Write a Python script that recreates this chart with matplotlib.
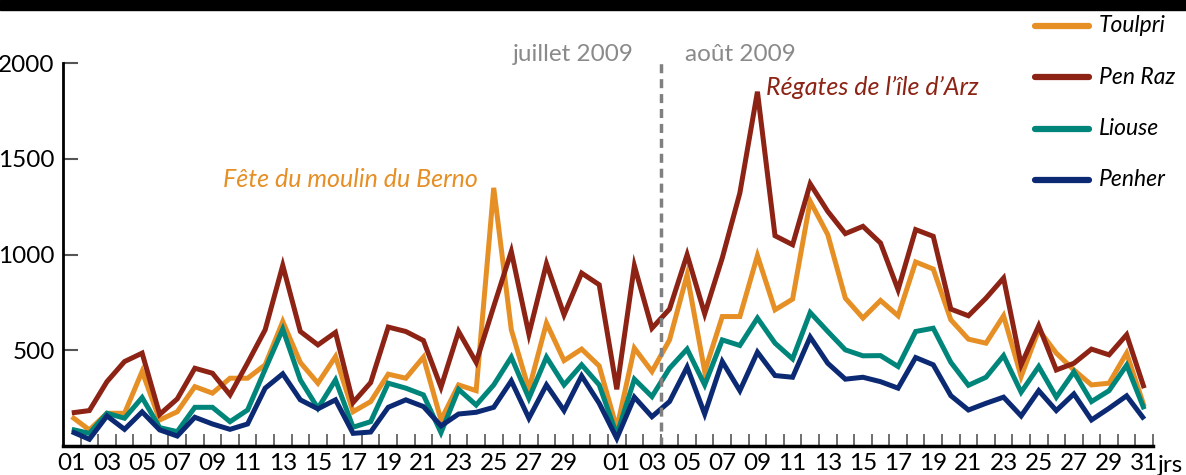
import numpy as np
import matplotlib
matplotlib.use("Agg")
import matplotlib.pyplot as plt
from matplotlib.patches import Rectangle
from matplotlib.lines import Line2D

# daily visitors, 1 July -> 31 August 2009
toulpri = [153, 84, 171, 171, 389, 136, 179, 310, 276, 354,
           354, 424, 650, 436, 328, 467, 179, 232, 375, 354,
           464, 136, 319, 289, 1348, 607, 296, 642, 446, 506, 418,
           92, 511, 389, 554, 894, 389, 676, 676, 994, 711,
           767, 1278, 1104, 772, 668, 760, 680, 961, 924,
           659, 558, 537, 680, 363, 607, 485, 397, 319, 328, 485, 206]
pen_raz = [173, 185, 336, 441, 485, 165, 246, 406, 380, 267,
           434, 607, 943, 598, 528, 593, 227, 331, 621, 598,
           551, 307, 598, 437, 729, 1016, 584, 952, 685, 903, 842,
           296, 941, 615, 715, 999, 690, 982, 1321, 1850, 1098,
           1051, 1369, 1225, 1109, 1147, 1060, 816, 1130, 1095,
           715, 680, 772, 877, 424, 628, 397, 432, 506, 476, 581, 302]
liouse = [87, 66, 171, 145, 253, 96, 75, 202, 202, 127,
          188, 401, 610, 345, 197, 345, 98, 127, 328, 302,
          267, 70, 296, 214, 319, 464, 249, 464, 319, 424, 319,
          58, 349, 258, 406, 506, 319, 554, 525, 668, 537,
          455, 697, 598, 502, 471, 472, 415, 598, 615,
          437, 317, 359, 472, 281, 415, 255, 387, 232, 289, 422, 192]
penher = [75, 35, 157, 87, 178, 84, 52, 150, 115, 87,
          115, 302, 377, 241, 194, 241, 66, 73, 202, 241,
          206, 105, 167, 176, 202, 340, 145, 319, 185, 366, 223,
          40, 255, 153, 232, 412, 167, 441, 289, 490, 368,
          359, 569, 432, 349, 359, 336, 302, 462, 424,
          263, 188, 223, 255, 157, 289, 185, 272, 136, 197, 262, 140]

names = ["Toulpri", "Pen Raz", "Liouse", "Penher"]
colors = ["#E68F25", "#8C2314", "#00857A", "#0B2A73"]
series = [toulpri, pen_raz, liouse, penher]

july_days = list(range(1, 32))
aout_days = list(range(1, 32))
y_ticks = [500, 1000, 1500, 2000]

plt.rcParams['font.family'] = ['Lato', 'DejaVu Sans']

W, H = 1186, 475
fig = plt.figure(figsize=(W / 100, H / 100), dpi=100)
ax = fig.add_axes([63 / W, 29 / H, 1090 / W, 383 / H])

x = np.arange(len(july_days) + len(aout_days))
for vals, col in zip(series, colors):
    ax.plot(x, vals, color=col, lw=3.6, solid_joinstyle='miter', solid_capstyle='butt')

ax.set_xlim(-0.5, len(x) - 0.5)
ax.set_ylim(0, 2000)

for s in ["top", "right"]:
    ax.spines[s].set_visible(False)
ax.spines["left"].set_linewidth(2)
ax.spines["bottom"].set_linewidth(2.5)

ax.set_yticks(y_ticks)
ax.set_yticklabels([str(v) for v in y_ticks])
ax.tick_params(axis='y', direction='in', length=11, width=1.5, color='#555555',
               labelsize=17.5, pad=6)

# labels on odd days, 31 July dropped (too close to 01 August)
pos, labs = [], []
for i, d in enumerate(july_days + aout_days):
    if d % 2 == 1 and not (i < 31 and d == 31):
        pos.append(i)
        labs.append("%02d" % d)
ax.set_xticks(pos)
ax.set_xticklabels(labs)
ax.set_xticks(np.arange(0.5, len(x), 1), minor=True)
ax.tick_params(axis='x', which='major', length=0, labelsize=17.5, pad=5)
ax.tick_params(axis='x', which='minor', direction='in', length=9, width=1.2,
               color='#555555')

ax.axvline(33.5, ymin=0, ymax=1, color='#808080', lw=2.5, dashes=(2.6, 1.7))
ax.text(31.95, 2045, "juillet 2009", ha='right', va='center', color='#8a8a8a',
        fontsize=17.5, clip_on=False)
ax.text(34.9, 2045, "août 2009", ha='left', va='center', color='#8a8a8a',
        fontsize=17.5, clip_on=False)

ax.text(23.1, 1391, "Fête du moulin du Berno", ha='right', va='center',
        style='italic', color=colors[0], fontsize=18)
ax.text(39.5, 1872, "Régates de l’île d’Arz", ha='left', va='center',
        style='italic', color=colors[1], fontsize=18)

fig.text(1158 / W, 3 / H, "jrs", ha='left', va='baseline', fontsize=17.5)

# legend drawn by hand
for k, (name, col) in enumerate(zip(names, colors)):
    yy = 1 - (26 + 51.3 * k) / H
    fig.add_artist(Line2D([1035 / W, 1089 / W], [yy, yy], color=col, lw=4.5,
                          solid_capstyle='round', transform=fig.transFigure))
    fig.text(1099 / W, yy, name, ha='left', va='center', style='italic',
             fontsize=16.5)

# black band at the top
fig.add_artist(Rectangle((0, 1 - 10 / H), 1, 10 / H, color='black',
                         transform=fig.transFigure))

fig.savefig("out.png", dpi=100)
